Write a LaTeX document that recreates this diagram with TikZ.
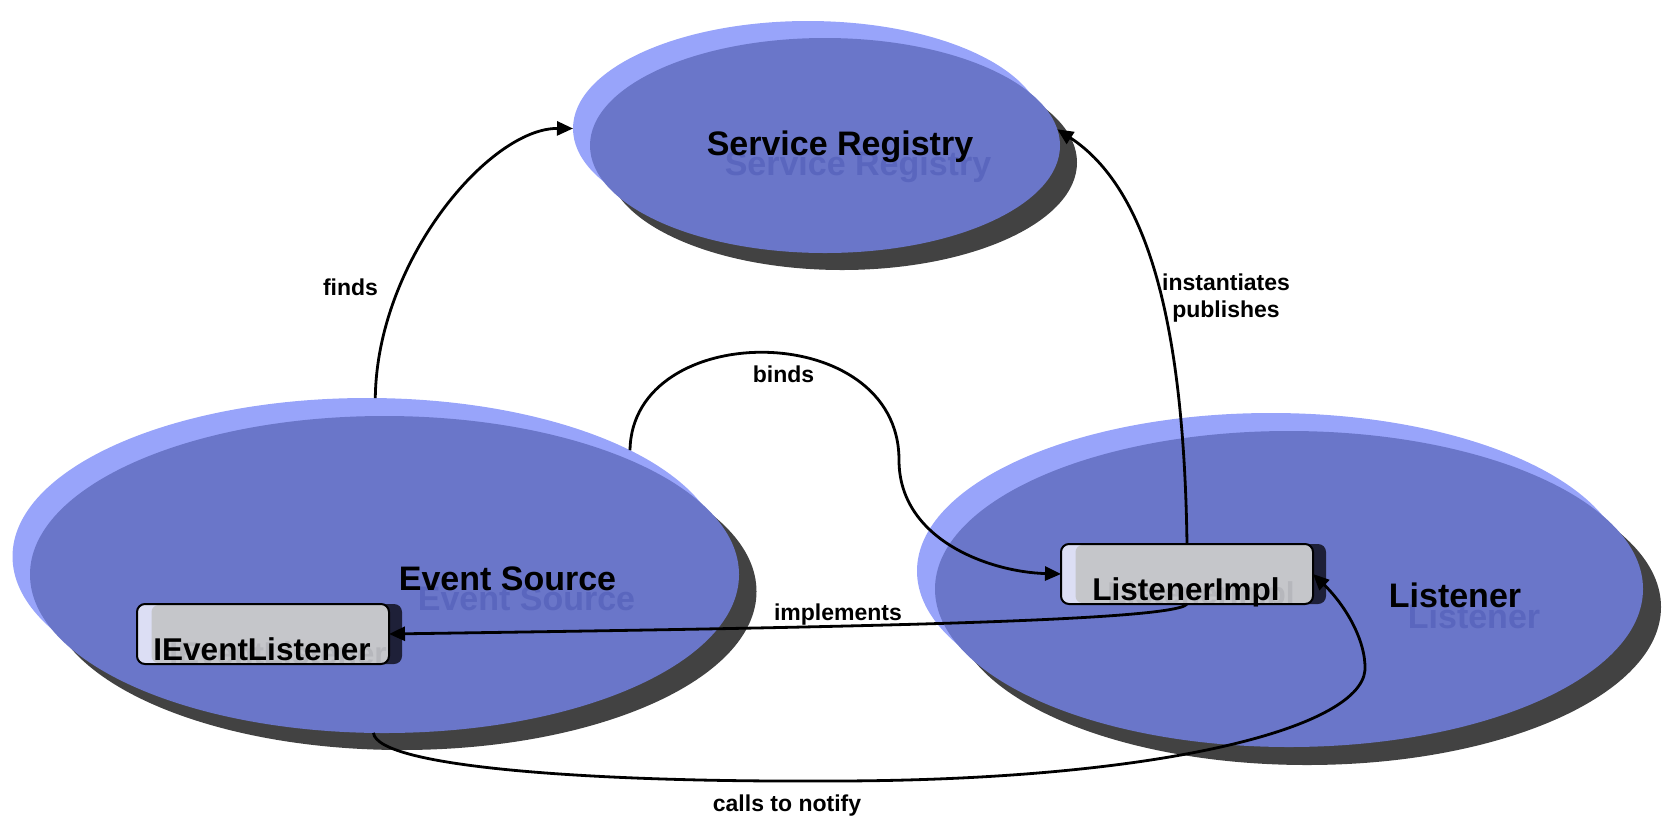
\documentclass[tikz,border=0pt]{standalone}
\usepackage{fontspec}
\setmainfont{Liberation Sans}
\usetikzlibrary{shapes.geometric,arrows.meta}

\definecolor{cRim}{HTML}{98A4FA}
\definecolor{cDisc}{HTML}{6A76C9}
\definecolor{cDrop}{HTML}{424242}
\definecolor{cGhost}{HTML}{5A66BE}
\definecolor{cCard}{HTML}{C5C6CA}
\definecolor{cCardRim}{HTML}{DCDEF4}
\definecolor{cCardDrop}{HTML}{1E2038}
\definecolor{cCardGhost}{HTML}{B6B7BC}

\begin{document}
\begin{tikzpicture}[x=1pt,y=-1pt,
  oval/.style 2 args={ellipse,inner sep=0pt,outer sep=0pt,minimum width=#1,minimum height=#2},
  card/.style={rectangle,rounded corners=8pt,inner sep=0pt,outer sep=0pt,minimum width=252pt,minimum height=60pt},
  cardface/.style={rectangle,rounded corners=7pt,inner sep=0pt,outer sep=0pt,minimum width=237pt,minimum height=58pt,fill=cCard},
  bigtext/.style={font=\fontsize{34}{40}\selectfont\bfseries,inner sep=0pt,anchor=base},
  cardtext/.style={font=\fontsize{31.5}{38}\selectfont\bfseries,inner sep=0pt,anchor=base},
  tag/.style={font=\fontsize{23}{27}\selectfont\bfseries,inner sep=0pt,anchor=base,align=center},
  link/.style={line width=2.8pt,-{Triangle[length=16pt,width=14pt]}}]

\useasboundingbox (0,0) rectangle (1668,820);

% Service Registry disc: drop shadow, rim, face
\node[oval={470pt}{215pt},fill=cDrop] (srs) at (842,162.5) {};
\node[oval={470pt}{215pt},fill=cRim]  (srh) at (808,128.5) {};
\node[oval={470pt}{215pt},fill=cDisc] (sr)  at (825,145.5) {};
\node[bigtext,text=cGhost] (srt2) at (858,175) {Service Registry};
\node[bigtext] (srt) at (840,155) {Service Registry};

% Event Source disc
\node[oval={709pt}{317pt},fill=cDrop] (ess) at (402,591.5) {};
\node[oval={709pt}{317pt},fill=cRim]  (esh) at (367,556.5) {};
\node[oval={709pt}{317pt},fill=cDisc] (es)  at (384.5,574.5) {};
\node[bigtext,text=cGhost] (est2) at (526.5,610) {Event Source};
\node[bigtext] (est) at (507.5,590) {Event Source};

% Listener disc
\node[oval={708pt}{316pt},fill=cDrop] (lis) at (1307,607) {};
\node[oval={708pt}{316pt},fill=cRim]  (lih) at (1271,571) {};
\node[oval={708pt}{316pt},fill=cDisc] (lis0) at (1289,589) {};
\node[bigtext,text=cGhost] (lit2) at (1474,628) {Listener};
\node[bigtext] (lit) at (1455,607) {Listener};

% IEventListener card
\node[card,fill=cCardDrop] (ield) at (276,634) {};
\node[card,fill=cCardRim]  (ielr) at (263,634) {};
\node[cardface] (ielf) at (270,634) {};
\begin{scope}
  \clip[rounded corners=8pt] (137,604) rectangle (389,664);
  \node[cardtext,text=cCardGhost] (ielt2) at (278,664) {IEventListener};
\end{scope}
\node[cardtext] (ielt) at (262,660) {IEventListener};
\node[card,draw=black,line width=2pt] (iel) at (263,634) {};

% ListenerImpl card
\node[card,fill=cCardDrop] (lid) at (1200,574) {};
\node[card,fill=cCardRim]  (lir) at (1187,574) {};
\node[cardface] (lif) at (1194,574) {};
\begin{scope}
  \clip[rounded corners=8pt] (1061,544) rectangle (1313,604);
  \node[cardtext,text=cCardGhost] (lit3) at (1201,604) {ListenerImpl};
\end{scope}
\node[cardtext] (lit4) at (1186,600) {ListenerImpl};
\node[card,draw=black,line width=2pt] (li) at (1187,574) {};

% connectors
\draw[link] (esh.87) .. controls (377,260) and (490,128) .. (srh.west);
\node[tag] (lfinds) at (350.5,295) {finds};

\draw[link] (li.north) .. controls (1184,330) and (1150,190) .. (sr.4);
\node[tag,anchor=center] (linst) at (1226,298) {instantiates\\publishes};

\draw[link] (esh.22) .. controls (632,318) and (899,318) .. (899,460)
  .. controls (899,540) and (990,572) .. (li.west);
\node[tag] (lbinds) at (783.5,382) {binds};

\draw[link] (li.south) .. controls (1175,622) and (800,628) .. (iel.east);
\node[tag] (limpl) at (838,620) {implements};

\draw[link] (es.266) .. controls (378,768) and (600,782) .. (820,781)
  .. controls (1150,782) and (1360,730) .. (1365,670)
  .. controls (1366,640) and (1345,605) .. (li.east);
\node[tag] (lcalls) at (787,811) {calls to notify};
\end{tikzpicture}
\end{document}
